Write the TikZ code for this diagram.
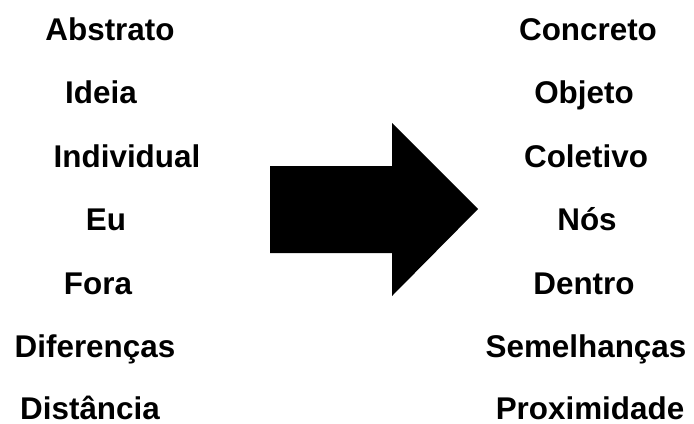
\documentclass[tikz,border=0pt]{standalone}
\usepackage{fontspec}
\setmainfont{Liberation Sans}
\begin{document}
\begin{tikzpicture}[x=0.5pt,y=-0.5pt,
  word/.style={anchor=base,inner sep=0pt,font=\fontsize{15.7pt}{18pt}\selectfont\bfseries}]
\useasboundingbox (0,0) rectangle (694,423);
\fill[white] (0,0) rectangle (694,423);
% left column
\node[word] (abs) at (110,40) {Abstrato};
\node[word] (ide) at (101,103) {Ideia};
\node[word] (ind) at (127,167) {Individual};
\node[word] (eu)  at (106,230) {Eu};
\node[word] (for) at (98,294) {Fora};
\node[word] (dif) at (95,357) {Diferenças};
\node[word] (dis) at (90,419) {Distância};
% right column
\node[word] (con) at (588,40) {Concreto};
\node[word] (obj) at (584,103) {Objeto};
\node[word] (col) at (586,167) {Coletivo};
\node[word] (nos) at (587,230) {Nós};
\node[word] (den) at (584,294) {Dentro};
\node[word] (sem) at (586,357) {Semelhanças};
\node[word] (pro) at (590,419) {Proximidade};
% big arrow
\fill[black] (270,166) -- (392,166) -- (392,123) -- (478,209) -- (392,296) -- (392,253) -- (270,253) -- cycle;
\end{tikzpicture}
\end{document}
